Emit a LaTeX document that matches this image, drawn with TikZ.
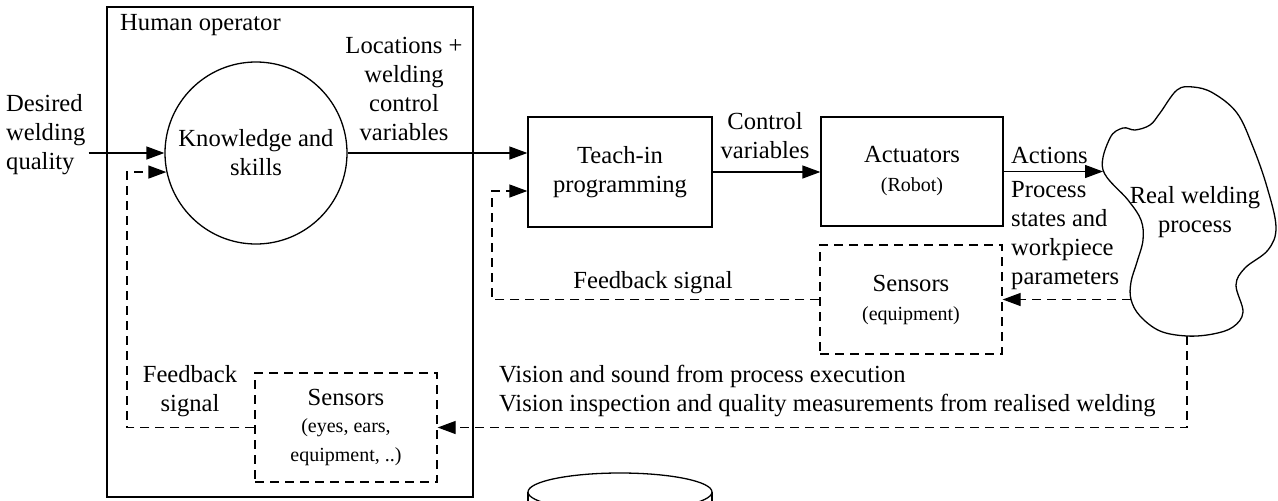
\documentclass[tikz,border=0pt]{standalone}
\usepackage{fontspec}
\setmainfont{Liberation Serif}
\usetikzlibrary{arrows.meta}
\newcommand\smalltxt{\fontsize{20}{26}\selectfont}
\begin{document}
\begin{tikzpicture}[x=1pt,y=-1pt,
  every node/.style={font=\fontsize{24.6}{29}\selectfont, inner sep=0pt},
  box/.style={draw, line width=1.3pt, minimum width=182pt, minimum height=109pt, align=center},
  dbox/.style={box, dash pattern=on 9pt off 6pt},
  lbl/.style={align=center},
  arr/.style={line width=1.3pt, -{Triangle[length=18pt,width=13pt]}},
  darr/.style={arr, dash pattern=on 9pt off 6pt},
  ln/.style={line width=1.3pt}]
\useasboundingbox (0,0) rectangle (1278,501);

% Human operator frame
\node[draw, line width=2pt, minimum width=366pt, minimum height=490pt] (hum) at (290,252) {};
\node[anchor=west] (humlbl) at (120,25) {Human operator};

% main nodes
\node[circle, draw, line width=1.3pt, minimum size=182pt, align=center] (K) at (256,153) {Knowledge and\\skills};
\node[box, minimum width=184pt, minimum height=110pt] (teach) at (620,172) {Teach-in\\programming};
\node[box] (act) at (912,171.5) {Actuators\\{\smalltxt (Robot)}};
\node[dbox] (senseq) at (911,299.5) {Sensors\\{\smalltxt (equipment)}};
\node[dbox] (senseyes) at (346,427.5) {Sensors\\[-2pt]{\smalltxt (eyes, ears,}\\{\smalltxt equipment, ..)}};

% cloud
\draw[ln] plot[smooth cycle, tension=0.6] coordinates {
 (1103,170) (1110,138) (1123,128) (1135,130) (1150,125) (1160,113) (1177,90)
 (1193,87) (1213,93) (1237,113) (1253,147) (1267,187) (1276,227) (1268,250)
 (1245,268) (1236,285) (1243,312) (1233,327) (1213,334) (1187,336) (1160,331)
 (1140,316) (1131,299.5) (1131,282) (1137,262) (1143,240) (1141,220) (1128,200)};
\node[lbl] (real) at (1195,212) {Real welding\\process};
\coordinate (cloudL) at (1103,171.5);
\coordinate (cloudR) at (1131,299.5);
\coordinate (cloudB) at (1187,336);

% labels
\node[align=left, anchor=west] (desired) at (6,135) {Desired\\welding\\quality};
\node[lbl] (loc) at (404,89) {Locations +\\welding\\control\\variables};
\node[lbl] (ctrl) at (765,136) {Control\\variables};
\node[anchor=west] (actions) at (1011,155) {Actions};
\node[align=left, anchor=west] (pst) at (1011,236) {Process\\states and\\workpiece\\parameters};
\node (fb1) at (653,283) {Feedback signal};
\node[align=left, anchor=west] (vis) at (499,391) {Vision and sound from process execution\\Vision inspection and quality measurements from realised welding};
\node[lbl] (fb2) at (190,391) {Feedback\\signal};

% helper corners
\coordinate (fbA) at (492,299.5);
\coordinate (fbB) at (127,427.5);

% connectors
\draw[arr] ([xshift=3pt]desired.east |- K.west) -- (K.west);
\draw[arr] (K.east) -- (K.east -| teach.west);
\draw[arr] (teach.east) -- (teach.east -| act.west);
\draw[arr] (act.east) -- (act.east -| cloudL);
\draw[darr] (cloudR) -- (senseq.east);
\draw[darr] (senseq.west) -- (fbA) |- ([yshift=-19pt]teach.west);
\draw[darr] (cloudB) |- (senseyes.east);
\draw[darr] (senseyes.west) -- (fbB) |- (K.192);

% cylinder (cut by the lower edge)
\begin{scope}
\clip (0,0) rectangle (1278,501);
\draw[ln] (528,492) -- (528,520) (712,492) -- (712,520);
\draw[ln, fill=white] (620,492) ellipse [x radius=92, y radius=19];
\end{scope}
\end{tikzpicture}
\end{document}
